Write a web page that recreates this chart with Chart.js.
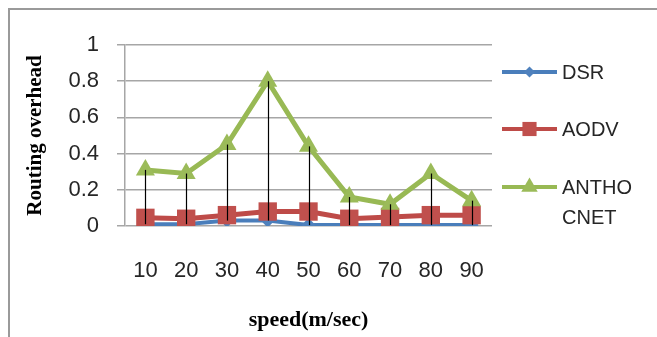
<!DOCTYPE html>
<html>
<head>
<meta charset="utf-8">
<style>
  html, body { margin: 0; padding: 0; background: #ffffff; }
  #wrap { width: 657px; height: 337px; position: relative; }
</style>
<script src="https://cdn.jsdelivr.net/npm/chart.js@4.4.1/dist/chart.umd.min.js"></script>
</head>
<body>
<div id="wrap"><canvas id="c" width="657" height="337"></canvas></div>
<script>
const categories = ['10', '20', '30', '40', '50', '60', '70', '80', '90'];
const dsrValues = [0.01, 0.01, 0.03, 0.03, 0.005, 0.005, 0.005, 0.005, 0.005];
const aodvValues = [0.045, 0.04, 0.06, 0.08, 0.08, 0.04, 0.05, 0.06, 0.06];
const anthocnetValues = [0.31, 0.29, 0.45, 0.8, 0.44, 0.16, 0.12, 0.29, 0.14];
const seriesLabels = ['DSR', 'AODV', ['ANTHO', 'CNET']];
const yTickMin = 0, yTickMax = 1, yTickStep = 0.2;
const xTitle = 'speed(m/sec)';
const yTitle = 'Routing overhead';

const frame = {
  id: 'frame',
  beforeDraw(chart) {
    const ctx = chart.ctx;
    ctx.save();
    ctx.strokeStyle = '#9a9a9a';
    ctx.lineWidth = 2;
    ctx.beginPath();
    ctx.moveTo(9, 337);
    ctx.lineTo(9, 9);
    ctx.lineTo(657, 9);
    ctx.stroke();
    ctx.restore();
  }
};

const highLow = {
  id: 'highLow',
  afterDatasetsDraw(chart) {
    const ctx = chart.ctx;
    const xs = chart.scales.x, ys = chart.scales.y;
    ctx.save();
    ctx.strokeStyle = '#000000';
    ctx.lineWidth = 1.2;
    categories.forEach((c, i) => {
      const vals = chart.data.datasets.map(d => d.data[i]);
      const hi = Math.max(...vals), lo = Math.min(...vals);
      const x = Math.round(xs.getPixelForValue(i)) + 0.5;
      ctx.beginPath();
      ctx.moveTo(x, ys.getPixelForValue(hi));
      ctx.lineTo(x, ys.getPixelForValue(lo));
      ctx.stroke();
    });
    ctx.restore();
  }
};

const customLegend = {
  id: 'customLegend',
  afterDraw(chart) {
    const ctx = chart.ctx;
    const rowsY = [72, 129, 187];
    const legendRadius = [5.5, 10, 9.5];
    ctx.save();
    chart.data.datasets.forEach((ds, i) => {
      const y = rowsY[i];
      ctx.strokeStyle = ds.borderColor;
      ctx.lineWidth = 4;
      ctx.beginPath();
      ctx.moveTo(502, y);
      ctx.lineTo(557, y);
      ctx.stroke();
      ctx.fillStyle = ds.pointBackgroundColor;
      ctx.strokeStyle = ds.pointBorderColor;
      Chart.helpers.drawPoint(ctx, {
        pointStyle: ds.pointStyle, radius: legendRadius[i], rotation: 0, borderWidth: 0
      }, 529.5, y);
      ctx.fillStyle = '#262626';
      ctx.font = '20px "Liberation Sans", Arial, sans-serif';
      ctx.textBaseline = 'middle';
      ctx.textAlign = 'left';
      const lines = Array.isArray(seriesLabels[i]) ? seriesLabels[i] : [seriesLabels[i]];
      lines.forEach((t, k) => ctx.fillText(t, 562, y + 1 + k * 30));
    });
    ctx.restore();
  }
};

new Chart(document.getElementById('c'), {
  type: 'line',
  data: {
    labels: categories,
    datasets: [
      {
        label: 'DSR', data: dsrValues, order: 3,
        borderColor: '#4a7ebb', borderWidth: 4,
        pointStyle: 'rectRot', pointRadius: 7, pointHoverRadius: 7,
        pointBackgroundColor: '#4f81bd', pointBorderColor: '#4f81bd', pointBorderWidth: 0,
        tension: 0
      },
      {
        label: 'AODV', data: aodvValues, order: 2,
        borderColor: '#be4b48', borderWidth: 5,
        pointStyle: 'rect', pointRadius: 13, pointHoverRadius: 13,
        pointBackgroundColor: '#c0504d', pointBorderColor: '#c0504d', pointBorderWidth: 0,
        tension: 0
      },
      {
        label: 'ANTHOCNET', data: anthocnetValues, order: 1,
        borderColor: '#98b954', borderWidth: 5,
        pointStyle: 'triangle', pointRadius: 11, pointHoverRadius: 11,
        pointBackgroundColor: '#9bbb59', pointBorderColor: '#9bbb59', pointBorderWidth: 0,
        tension: 0
      }
    ]
  },
  options: {
    responsive: false,
    animation: false,
    devicePixelRatio: 1,
    layout: { padding: { left: 0, right: 165, top: 45, bottom: 0 } },
    plugins: { legend: { display: false }, tooltip: { enabled: false } },
    scales: {
      x: {
        offset: true,
        grid: { display: false, drawTicks: false },
        border: { display: false },
        ticks: {
          color: '#262626', padding: 32,
          font: { family: '"Liberation Sans", Arial, sans-serif', size: 22 }
        },
        title: {
          display: true, text: xTitle, color: '#000000',
          padding: { top: 0, bottom: 3 },
          font: { family: '"Liberation Serif", "Times New Roman", serif', size: 22, weight: 'bold' }
        },
        afterFit(scale) { scale.height = 111; }
      },
      y: {
        min: yTickMin, max: yTickMax,
        ticks: {
          stepSize: yTickStep, color: '#262626', padding: 18,
          font: { family: '"Liberation Sans", Arial, sans-serif', size: 22 },
          callback: (v) => String(Math.round(v * 10) / 10)
        },
        grid: { color: '#a6a6a6', lineWidth: 1.5, tickLength: 8, drawTicks: true },
        border: { color: '#a6a6a6', width: 1.5 },
        title: {
          display: true, text: yTitle, color: '#000000',
          padding: { top: 23, bottom: 0 },
          font: { family: '"Liberation Serif", "Times New Roman", serif', size: 21, weight: 'bold' }
        },
        afterFit(scale) { scale.width = 125; }
      }
    }
  },
  plugins: [frame, highLow, customLegend]
});
</script>
</body>
</html>
